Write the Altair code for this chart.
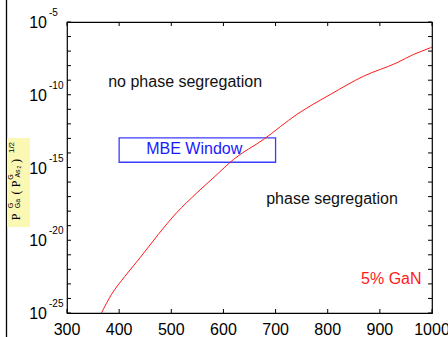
import altair as alt
import pandas as pd

# ---- data ----
temperature = [366, 385, 411, 440, 475, 510, 549, 584, 619, 677, 741, 805, 869, 933, 965, 997, 1000]
pressure = [1.0e-25, 1.8e-24, 3.3e-23, 6.2e-22, 2.5e-20, 7.6e-19, 1.8e-17, 2.5e-16, 3.5e-15,
            8.5e-14, 4.5e-12, 1.05e-10, 1.9e-9, 1.6e-8, 6.0e-8, 1.7e-7, 1.9e-7]

x_ticks = [300, 400, 500, 600, 700, 800, 900, 1000]
y_ticks = [1e-5, 1e-6, 1e-7, 1e-8, 1e-9, 1e-10, 1e-11, 1e-12, 1e-13, 1e-14, 1e-15,
           1e-16, 1e-17, 1e-18, 1e-19, 1e-20, 1e-21, 1e-22, 1e-23, 1e-24, 1e-25]
y_major = [1e-5, 1e-10, 1e-15, 1e-20, 1e-25]
y_major_exp = ["-5", "-10", "-15", "-20", "-25"]

mbe_x = [400, 700]
mbe_y = [1.1e-13, 2.3e-15]

annotations = {
    "text": ["no phase segregation", "phase segregation"],
    "x": [379, 682],
    "y": [3.2e-10, 3.3e-18],
}
label_5 = {"text": "5% GaN", "x": 980, "y": 1.05e-23}
mbe_label = {"text": "MBE Window", "x": 544, "y": 7.9e-15}

FONT = "Liberation Sans"
W, H = 365, 291

xs = alt.Scale(domain=[300, 1000], nice=False, zero=False)
ys = alt.Scale(type="log", domain=[1e-25, 1e-5], nice=False)

curve_df = pd.DataFrame({"T": temperature, "P": pressure})

line = alt.Chart(curve_df).mark_line(color="#ff1a1a", strokeWidth=1, interpolate="monotone").encode(
    x=alt.X("T:Q", scale=xs, axis=None),
    y=alt.Y("P:Q", scale=ys, axis=None),
)

xt = pd.DataFrame({"t": x_ticks})
yt = pd.DataFrame({"v": y_ticks})
tick_layers = []
for y0, y1 in [(H, H - 4), (0, 4)]:
    tick_layers.append(alt.Chart(xt).mark_rule(color="black", strokeWidth=1).encode(
        x=alt.X("t:Q", scale=xs, axis=None), y=alt.value(y0), y2=alt.value(y1)))
for x0, x1 in [(0, 4), (W, W - 4)]:
    tick_layers.append(alt.Chart(yt).mark_rule(color="black", strokeWidth=1).encode(
        y=alt.Y("v:Q", scale=ys, axis=None), x=alt.value(x0), x2=alt.value(x1)))

xlab = alt.Chart(xt).mark_text(align="center", baseline="alphabetic", fontSize=16, font=FONT,
                               color="black").encode(
    x=alt.X("t:Q", scale=xs, axis=None), y=alt.value(H + 22), text="t:Q")

ymaj = pd.DataFrame({"v": y_major, "e": y_major_exp})
ylab10 = alt.Chart(ymaj).mark_text(align="right", baseline="middle", fontSize=16, font=FONT,
                                   color="black", dy=1).encode(
    y=alt.Y("v:Q", scale=ys, axis=None), x=alt.value(-20), text=alt.value("10"))
ylabexp = alt.Chart(ymaj).mark_text(align="left", baseline="alphabetic", fontSize=10, font=FONT,
                                    color="black", dy=-6).encode(
    y=alt.Y("v:Q", scale=ys, axis=None), x=alt.value(-18), text="e:N")

mbe_df = pd.DataFrame({"x1": [mbe_x[0]], "x2": [mbe_x[1]], "y1": [mbe_y[0]], "y2": [mbe_y[1]]})
box = alt.Chart(mbe_df).mark_rect(fill=None, stroke="#3b3bff", strokeWidth=1.3).encode(
    x=alt.X("x1:Q", scale=xs, axis=None), x2="x2:Q",
    y=alt.Y("y1:Q", scale=ys, axis=None), y2="y2:Q")

mbe_text = alt.Chart(pd.DataFrame([mbe_label])).mark_text(
    align="center", baseline="alphabetic", fontSize=16, font=FONT, color="#1a1aff").encode(
    x=alt.X("x:Q", scale=xs, axis=None), y=alt.Y("y:Q", scale=ys, axis=None), text="text:N")

ann = alt.Chart(pd.DataFrame(annotations)).mark_text(
    align="left", baseline="alphabetic", fontSize=16, font=FONT, color="#111111").encode(
    x=alt.X("x:Q", scale=xs, axis=None), y=alt.Y("y:Q", scale=ys, axis=None), text="text:N")

gan = alt.Chart(pd.DataFrame([label_5])).mark_text(
    align="right", baseline="alphabetic", fontSize=16, font=FONT, color="#ff1a1a").encode(
    x=alt.X("x:Q", scale=xs, axis=None), y=alt.Y("y:Q", scale=ys, axis=None), text="text:N")

dummy = pd.DataFrame({"d": [0]})

# left page border line
border = alt.Chart(dummy).mark_rule(color="black", strokeWidth=1.3).encode(
    x=alt.value(-60.5), y=alt.value(-22), y2=alt.value(315))

# y-axis title with yellow highlight
ybg = alt.Chart(dummy).mark_rect(color="#fbf8b4").encode(
    x=alt.value(-60), x2=alt.value(-37), y=alt.value(116), y2=alt.value(205))

title_pieces = [
    ("P", -51.5, 195, 12, "Liberation Serif"),
    ("G", -56, 183.5, 7, FONT),
    ("Ga", -49.5, 181.5, 7, FONT),
    ("(", -51.5, 170.5, 12, "Liberation Serif"),
    ("P", -51.5, 162, 12, "Liberation Serif"),
    ("G", -56, 155, 7, FONT),
    ("As", -49.5, 151.5, 7, FONT),
    ("2", -48.5, 145, 5, FONT),
    (")", -51.5, 139, 12, "Liberation Serif"),
    ("1/2", -55, 125.5, 8, FONT),
]
title_layers = []
for txt, px, py, fs, fnt in title_pieces:
    title_layers.append(alt.Chart(dummy).mark_text(
        angle=270, align="center", baseline="middle", fontSize=fs, font=fnt, color="black").encode(
        x=alt.value(px), y=alt.value(py), text=alt.value(txt)))

chart = alt.layer(
    border, ybg, *title_layers, box, line, *tick_layers, xlab, ylab10, ylabexp, mbe_text, ann, gan
).properties(
    width=W, height=H,
    autosize=alt.AutoSizeParams(type="none"),
    padding={"left": 67, "top": 22, "right": 16, "bottom": 24},
    background="white",
).configure_view(stroke="black", strokeWidth=1.2)

chart.save("out.html", embed_options={"renderer": "svg", "actions": False})
